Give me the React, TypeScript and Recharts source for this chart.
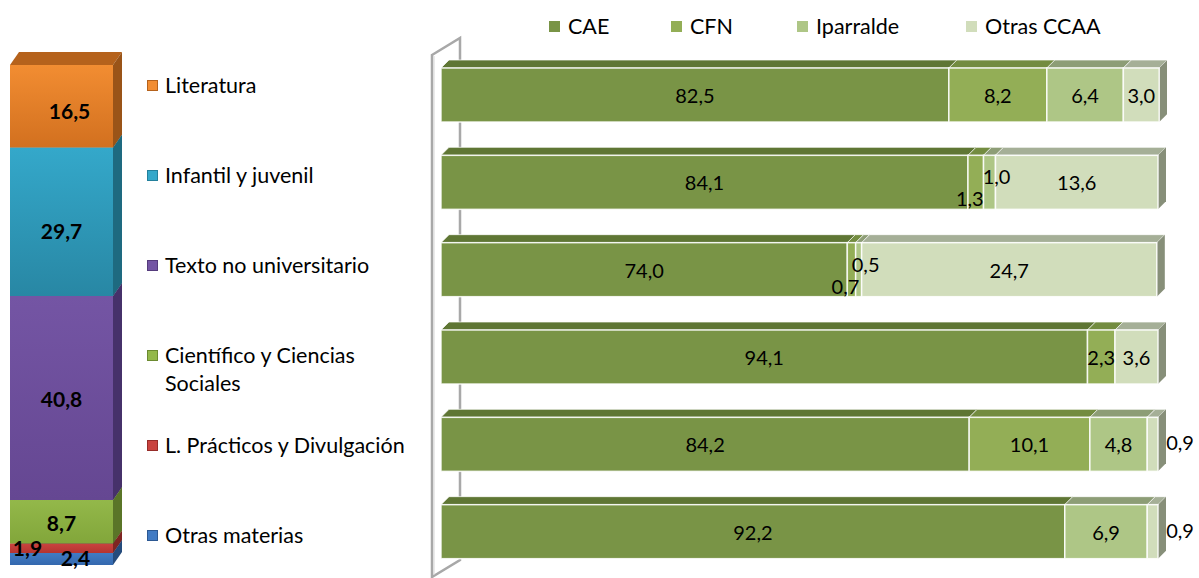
import React from 'react';
import { BarChart, Bar, XAxis, YAxis, LabelList, Legend, Customized } from 'recharts';

// categorías (materias) y su cuota sobre el total
const materias = [
  'Literatura',
  'Infantil y juvenil',
  'Texto no universitario',
  'Científico y Ciencias Sociales',
  'L. Prácticos y Divulgación',
  'Otras materias',
];
const cuota = [16.5, 29.7, 40.8, 8.7, 1.9, 2.4];

// distribución por territorio de cada materia
const regiones = ['CAE', 'CFN', 'Iparralde', 'Otras CCAA'];
const cae = [82.5, 84.1, 74.0, 94.1, 84.2, 92.2];
const cfn = [8.2, 1.3, 0.7, 2.3, 10.1, 0];
const iparralde = [6.4, 1.0, 0.5, 0, 4.8, 6.9];
const otras = [3.0, 13.6, 24.7, 3.6, 0.9, 0.9];

const FONT = 'Lato, "Open Sans", sans-serif';
const fmt = (v: number) => v.toFixed(1).replace('.', ',');

const MAT_COLORS = [
  { light: '#F28D32', dark: '#D2701F', top: '#B5621C', side: '#9A5418' },
  { light: '#34A8CA', dark: '#2887A4', top: '#23809C', side: '#1E6A80' },
  { light: '#7455A4', dark: '#654792', top: '#553B7C', side: '#46316A' },
  { light: '#93B84A', dark: '#82A63A', top: '#6B8A30', side: '#5A7528' },
  { light: '#C9433F', dark: '#B53431', top: '#962C29', side: '#7E2522' },
  { light: '#417BC4', dark: '#3468AE', top: '#2C5892', side: '#254B7C' },
];

const REG_COLORS = [
  { front: '#799446', top: '#5F7634', side: '#5C6E3C' },
  { front: '#93AE56', top: '#738C40', side: '#6C8046' },
  { front: '#AEC686', top: '#8D9D76', side: '#7F8A6E' },
  { front: '#D1DDBB', top: '#A5AF97', side: '#878F79' },
];

const LEFT_MARGIN = { top: 65, right: 317, bottom: 13, left: 10 };
const RIGHT_X = 420;
const DEPTH = 8;
// the value axis runs from 40 to 100 over 717px; the plot is widened by the bar depth
const AXIS_PX = 717;
const RIGHT_MARGIN = { top: 51, right: 41 - DEPTH - 1, bottom: 3, left: 21 };
const X_MAX = 100 + (60 * (DEPTH + 1)) / AXIS_PX;
const PLOT_LEFT = RIGHT_MARGIN.left;

const leftData = [
  Object.fromEntries([['total', 'Total'], ...materias.map((m, i) => [m, cuota[i]])]),
];

const rightData = materias.map((m, i) => ({
  materia: m,
  CAE: cae[i],
  CFN: cfn[i],
  Iparralde: iparralde[i],
  'Otras CCAA': otras[i],
}));

// labels nudged as in the original
const LEFT_NUDGE = [[8, 4], [0, 9], [0, 0], [0, 1], [-34, -1], [14, -2]];
const REG_LEGEND_X = [0, 122, 248, 417];

function Column3D(props: any) {
  const { x, y, width, height, idx } = props;
  if (!(height > 0)) return null;
  const dx = 9;
  const dy = 13;
  const c = MAT_COLORS[idx];
  return (
    <g>
      <polygon
        points={`${x},${y} ${x + dx},${y - dy} ${x + width + dx},${y - dy} ${x + width},${y}`}
        fill={c.top}
      />
      <polygon
        points={`${x + width},${y} ${x + width + dx},${y - dy} ${x + width + dx},${y + height - dy} ${x + width},${y + height}`}
        fill={c.side}
      />
      <rect x={x} y={y} width={width} height={height} fill={`url(#matGrad${idx})`} />
    </g>
  );
}

function Bar3D(props: any) {
  const { x, y, width, height, idx } = props;
  if (!(width > 0.3)) return null;
  const d = DEPTH;
  const c = REG_COLORS[idx];
  return (
    <g>
      <polygon
        points={`${x},${y} ${x + d},${y - d} ${x + width + d},${y - d} ${x + width},${y}`}
        fill={c.top}
        stroke="#ffffff"
        strokeOpacity={0.7}
        strokeWidth={1}
      />
      <polygon
        points={`${x + width},${y} ${x + width + d},${y - d} ${x + width + d},${y + height - d} ${x + width},${y + height}`}
        fill={c.side}
      />
      <rect x={x} y={y} width={width} height={height} fill={c.front} stroke="#ffffff" strokeOpacity={0.85} strokeWidth={1.5} />
    </g>
  );
}

const matLabel = (idx: number) => (p: any) => {
  const vb = p.viewBox ?? p;
  const [nx, ny] = LEFT_NUDGE[idx];
  return (
    <text
      x={vb.x + vb.width / 2 + nx}
      y={vb.y + vb.height / 2 + ny}
      textAnchor="middle"
      dominantBaseline="central"
      fontFamily={FONT}
      fontSize={21}
      fontWeight={700}
      fill="#000"
    >
      {fmt(Number(p.value))}
    </text>
  );
};

const regLabel = (k: number) => (p: any) => {
  const vb = p.viewBox ?? p;
  const value = Number(p.value);
  if (!value) return null;
  const left = Math.max(vb.x, PLOT_LEFT);
  const right = vb.x + vb.width;
  let cx = (left + right) / 2;
  let cy = vb.y + vb.height / 2;
  if (value < 1.5) {
    if (k === 1) {
      cx -= 6;
      cy += 16;
    } else if (k === 2) {
      cx += 7;
      cy -= 6;
    } else if (k === 3) {
      cx = right + DEPTH + 14;
      cy -= 2;
    }
  }
  return (
    <text x={cx} y={cy} textAnchor="middle" dominantBaseline="central" fontFamily={FONT} fontSize={20} fill="#000">
      {fmt(value)}
    </text>
  );
};

const MateriaLegend = () => (
  <div style={{ position: 'relative', width: 280, height: 578, fontFamily: FONT, fontSize: 21.5, color: '#000' }}>
    {materias.map((m, i) => (
      <div key={m} style={{ position: 'absolute', left: 0, top: 71 + i * 90, display: 'flex', alignItems: 'flex-start' }}>
        <span
          style={{
            display: 'inline-block',
            flex: 'none',
            width: 11,
            height: 11,
            marginTop: 9,
            marginRight: 7,
            background: MAT_COLORS[i].light,
            border: `1px solid ${MAT_COLORS[i].top}`,
            boxSizing: 'border-box',
          }}
        />
        <span style={{ lineHeight: '28px', width: i === 3 ? 215 : 270, whiteSpace: i === 3 ? 'normal' : 'nowrap' }}>
          {m}
        </span>
      </div>
    ))}
  </div>
);

const RegionLegend = () => (
  <div style={{ position: 'relative', height: 28, fontFamily: FONT, fontSize: 21.5, color: '#000' }}>
    {regiones.map((r, i) => (
      <div
        key={r}
        style={{ position: 'absolute', left: REG_LEGEND_X[i], top: 0, display: 'flex', alignItems: 'center', whiteSpace: 'nowrap' }}
      >
        <span
          style={{ display: 'inline-block', width: 11, height: 11, marginRight: 8, background: REG_COLORS[i].front }}
        />
        <span style={{ lineHeight: '28px' }}>{r}</span>
      </div>
    ))}
  </div>
);

// back wall of the 3D plot
const Wall = () => {
  const fx = PLOT_LEFT - 9;
  const bx = PLOT_LEFT + 19;
  return (
    <g>
      <polygon points={`${fx},55 ${bx},38 ${bx},560 ${fx},577`} fill="#ffffff" stroke="#A8A8A8" strokeWidth={2.5} />
      <line x1={fx + 2} y1={56} x2={fx + 2} y2={575} stroke="#D6D6D6" strokeWidth={1} />
    </g>
  );
};

export default function App() {
  const matOrder = [5, 4, 3, 2, 1, 0];
  return (
    <div style={{ position: 'absolute', left: 0, top: 0, width: 1199, height: 578, background: '#fff', fontFamily: FONT }}>
      <div style={{ position: 'absolute', left: 0, top: 0 }}>
        <BarChart width={430} height={578} data={leftData} margin={LEFT_MARGIN} barCategoryGap={0}>
          <defs>
            {MAT_COLORS.map((c, i) => (
              <linearGradient key={i} id={`matGrad${i}`} x1="0" y1="0" x2="0" y2="1">
                <stop offset="0%" stopColor={c.light} />
                <stop offset="100%" stopColor={c.dark} />
              </linearGradient>
            ))}
          </defs>
          <XAxis dataKey="total" hide />
          <YAxis type="number" domain={[0, 100]} hide />
          <Legend
            layout="horizontal"
            verticalAlign="middle"
            align="center"
            content={() => <MateriaLegend />}
            wrapperStyle={{ left: 147, top: 0, width: 280, height: 578 }}
          />
          {matOrder.map((i) => (
            <Bar
              key={materias[i]}
              dataKey={materias[i]}
              stackId="m"
              fill={MAT_COLORS[i].light}
              isAnimationActive={false}
              shape={(p: any) => <Column3D {...p} idx={i} />}
            >
              <LabelList dataKey={materias[i]} content={matLabel(i)} />
            </Bar>
          ))}
        </BarChart>
      </div>
      <div style={{ position: 'absolute', left: RIGHT_X, top: 0 }}>
        <BarChart
          width={779}
          height={578}
          data={rightData}
          layout="vertical"
          margin={RIGHT_MARGIN}
          barSize={54}
        >
          <Customized component={<Wall />} />
          <XAxis type="number" domain={[40, X_MAX]} allowDataOverflow hide />
          <YAxis type="category" dataKey="materia" hide />
          <Legend
            layout="horizontal"
            verticalAlign="middle"
            align="center"
            content={() => <RegionLegend />}
            wrapperStyle={{ left: 129, top: 12, width: 620, height: 28 }}
          />
          {regiones.map((r, k) => (
            <Bar
              key={r}
              dataKey={r}
              stackId="r"
              fill={REG_COLORS[k].front}
              isAnimationActive={false}
              shape={(p: any) => <Bar3D {...p} idx={k} />}
            >
              <LabelList dataKey={r} content={regLabel(k)} />
            </Bar>
          ))}
        </BarChart>
      </div>
    </div>
  );
}
